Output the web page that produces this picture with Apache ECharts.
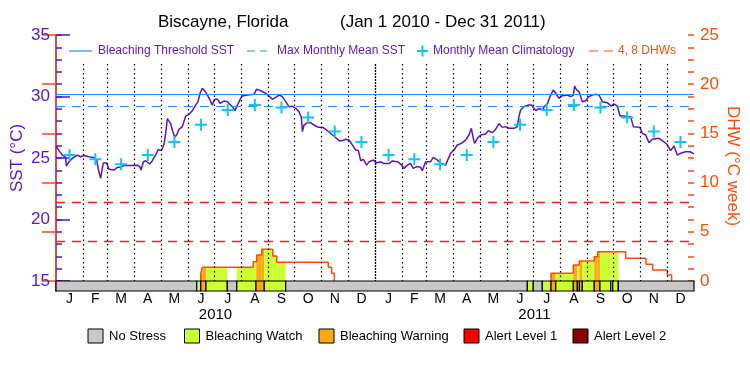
<!DOCTYPE html>
<html><head><meta charset="utf-8">
<script src="https://cdn.jsdelivr.net/npm/echarts@6/dist/echarts.min.js"></script>
<style>html,body{margin:0;padding:0;background:#fff}#c{width:750px;height:375px}</style>
</head><body><div id="c"></div>
<script>
// ---------- data (x = days since 2010-01-01) ----------
const monthLetters = ['J','F','M','A','M','J','J','A','S','O','N','D'];
const monthLengths = [31,28,31,30,31,30,31,31,30,31,30,31, 31,28,31,30,31,30,31,31,30,31,30,31];
const yearLabels = ['2010','2011'];
const yearMidDays = [182.5, 547.5];

const sstDay = [0,3.4,7.2,11,11.8,14.9,18.7,24.4,28.2,32,37.8,43.5,46.5,48.4,51.1,52.3,54.2,58,60.6,66.4,70.2,74,77.8,83.5,93,95.7,97.3,100,102.6,107.2,110.2,114,117.1,120.5,123.6,125.5,127.4,129.3,131.2,133.1,135.8,138,140.7,144.6,148.4,152.2,156,159.8,162.5,164.8,167.4,170.1,173.2,176.2,178.9,180.8,
183.1,185.4,187.7,192.2,196,201.8,204.8,207.5,211.3,213.2,218.9,226.6,229.6,234.2,239.9,243.7,247.5,251.4,255.2,259,262.8,266.6,270.4,274.2,278,280.7,281.9,283.8,287.6,291.4,295.2,300.2,305.9,310.5,315.1,318.9,323.9,327.7,331.5,335.3,339.1,342.9,346,348.6,351.7,355.5,358.2,363.2,366.2,
367.6,371.4,375.2,381,384.8,390.5,394.3,398.1,402,405.8,408.8,412.6,417.2,419.1,422.9,428.6,431.7,436.3,440.1,445.8,448.5,451.5,455.3,459.2,463.7,468.7,472.5,475.2,477.5,479,482.1,485.9,491.6,494.6,499.2,503,506.8,510.6,514.5,518.3,524,527.8,529.7,531.6,535.4,540,543.8,546.9,549.2,
552.6,556.4,559.1,562.2,565.2,569,571.7,575.5,579.3,585,588.9,591.9,593.4,595.7,598.4,602.2,606,609.8,613.6,617.5,621.3,625.1,630.8,635.4,638.4,642.3,645.3,649.9,653.7,657.5,660.6,668.2,670.9,674.7,678.5,682.3,689.9,693.7,698.7,703.3,707.1,710.9,714.7,720.4,725.4,730];
const sstVal = [25.98,25.6,25.24,25.05,24.35,24.7,24.97,25.24,25.1,25.2,25.1,25.03,24.89,24.08,23.35,23.9,24.6,24.6,24.08,24.02,24.24,24.24,24.4,24.4,24.42,24.3,24.02,24.7,24.78,24.51,24.78,25.24,25.7,25.6,26.11,27.0,28.2,28.3,27.8,27.28,26.68,26.87,27.33,27.55,28.41,28.55,28.85,29.3,29.58,30.26,30.66,30.47,30.12,29.72,29.3,29.72,
29.8,29.72,29.45,29.63,29.58,29.17,28.85,29.3,29.85,30.04,30.12,30.18,30.6,30.47,30.26,30.04,29.77,29.93,30.12,29.99,29.58,29.17,29.2,29.04,28.77,28.31,27.14,27.68,27.87,27.87,27.68,27.49,27.47,27.22,26.95,26.73,26.41,26.41,26.52,26.46,26.06,25.65,25.6,24.78,24.89,24.42,24.7,24.84,24.6,
24.51,24.7,24.55,24.55,24.76,24.7,24.51,24.16,24.42,24.55,24.16,24.3,24.24,23.97,24.7,24.7,25.05,24.84,24.55,24.42,24.89,25.38,25.65,26.06,26.19,26.46,26.87,27.41,26.6,26.19,26.6,26.87,26.95,27.22,27.06,27.33,27.8,27.49,27.55,27.41,27.41,27.55,28.36,28.9,29.17,29.3,29.3,29.05,28.85,
29.04,28.9,29.22,29.4,29.99,30.53,30.26,29.85,30.07,30.12,29.99,30.12,30.85,30.53,30.4,29.58,29.66,29.99,30.12,30.18,30.12,29.58,29.5,29.22,29.4,29.22,28.41,28.41,28.36,28.36,27.55,27.49,27.0,26.87,26.25,26.52,26.6,26.41,26.14,25.6,25.98,25.24,25.38,25.51,25.51,25.33];

const climVal = [25.25,24.9,24.5,25.25,26.3,27.7,28.9,29.3,29.1,28.3,27.15,26.3];
const bleachThreshold = 30.2;
const maxMonthlyMean = 29.2;
const dhwLevels = [4, 8];

const dhw2010Day = [165.6,165.6,167.4,225.7,229.6,235.4,248,252.5,311.5,315.4,318.4];
const dhw2010Val = [0,0.78,1.39,1.96,2.64,3.22,2.54,1.9,1.39,0.78,0];
const dhw2011Day = [566.4,566.4,591.9,598.7,615.9,619.8,651.8,675,682.7,699.4,704.4];
const dhw2011Val = [0,0.78,1.63,2.03,2.47,2.98,2.3,1.7,1.12,0.61,0];

// stress level: 0 no stress, 1 watch, 2 warning, 3 alert 1, 4 alert 2
const stressStart = [0,161.0,165.6,171.6,196.0,206.8,228.8,238.3,262.8,539.3,546.1,556.4,566.4,571.8,591.9,596.5,598.8,602.2,615.9,622.4,634.7,637.0,643.4];
const stressEnd   = [161.0,165.6,171.6,196.0,206.8,228.8,238.3,262.8,539.3,546.1,556.4,566.4,571.8,591.9,596.5,598.8,602.2,615.9,622.4,634.7,637.0,643.4,730];
const stressLevel = [0,1,2,1,0,1,2,1,0,1,0,1,2,1,2,1,2,1,2,1,1,1,0];
const stressNames = ['No Stress','Bleaching Watch','Bleaching Warning','Alert Level 1','Alert Level 2'];

// ---------- styles ----------
const PURPLE = '#5a14c8', BLUE = '#1e90ff', CYAN = '#12c4f4', RED = '#ff1a1a', ORANGE = '#ff4a0a';
const stressColors = ['#c8c8c8','#ccff33','#ffa811','#ff0000','#8b0000'];
const FONT = 'Liberation Sans';

// ---------- derived ----------
const monthStart = [0];
monthLengths.forEach((l, i) => monthStart.push(monthStart[i] + l));
const monthMid = monthLengths.map((l, i) => monthStart[i] + l / 2);
const sstData = sstDay.map((d, i) => [d, sstVal[i]]);
const climData = monthMid.map((d, i) => [d, climVal[i % 12]]);
const dhw2010 = dhw2010Day.map((d, i) => [d, dhw2010Val[i]]);
const dhw2011 = dhw2011Day.map((d, i) => [d, dhw2011Val[i]]);
const stressData = stressStart.map((s, i) => [s, stressEnd[i], stressLevel[i]]);
const fillData = [];
[[dhw2010Day, dhw2010Val], [dhw2011Day, dhw2011Val]].forEach(([dd, vv]) => {
  for (let i = 0; i < dd.length - 1; i++) {
    if (vv[i] <= 0) continue;
    stressData.forEach(([s, e, l]) => {
      if (l === 0) return;
      const a = Math.max(s, dd[i]), b = Math.min(e, dd[i + 1]);
      if (b > a) fillData.push([a, b, vv[i], l]);
    });
  }
});
const monthLineData = monthStart.slice(1, 24).map(d => [{coord: [d, 32.65]}, {coord: [d, 15], lineStyle: d === 365 ? {type: [2, 1], width: 1.3} : undefined}]);

const chart = echarts.init(document.getElementById('c'), null, {renderer: 'canvas'});
const G0 = {left: 56, right: 56, top: 35, height: 246, outerBoundsMode: 'none', containLabel: false};
const G1 = {left: 56, right: 56, top: 281, height: 10, outerBoundsMode: 'none', containLabel: false};

const legendY = 51, bottomY = 336;
const graphics = [
  {type: 'text', left: 158, top: 14, style: {text: 'Biscayne, Florida', font: '17px ' + FONT, fill: '#000'}},
  {type: 'text', left: 340, top: 14, style: {text: '(Jan 1 2010 - Dec 31 2011)', font: '17px ' + FONT, fill: '#000'}},
  {type: 'line', shape: {x1: 69, y1: legendY, x2: 92, y2: legendY}, style: {stroke: BLUE, lineWidth: 1.2}},
  {type: 'text', x: 98, y: legendY, style: {text: 'Bleaching Threshold SST', font: '12px ' + FONT, fill: PURPLE, textVerticalAlign: 'middle'}},
  {type: 'line', shape: {x1: 247, y1: legendY, x2: 267, y2: legendY}, style: {stroke: BLUE, lineWidth: 1.2, lineDash: [8, 5]}},
  {type: 'text', x: 277, y: legendY, style: {text: 'Max Monthly Mean SST', font: '12px ' + FONT, fill: PURPLE, textVerticalAlign: 'middle'}},
  {type: 'line', shape: {x1: 417, y1: legendY, x2: 428, y2: legendY}, style: {stroke: CYAN, lineWidth: 2}},
  {type: 'line', shape: {x1: 422.5, y1: legendY - 5.5, x2: 422.5, y2: legendY + 5.5}, style: {stroke: CYAN, lineWidth: 2}},
  {type: 'text', x: 433, y: legendY, style: {text: 'Monthly Mean Climatology', font: '12px ' + FONT, fill: PURPLE, textVerticalAlign: 'middle'}},
  {type: 'line', shape: {x1: 589, y1: legendY, x2: 613, y2: legendY}, style: {stroke: ORANGE, lineWidth: 1.2, lineDash: [9, 6]}},
  {type: 'text', x: 618, y: legendY, style: {text: '4, 8 DHWs', font: '12px ' + FONT, fill: ORANGE, textVerticalAlign: 'middle'}},
  {type: 'text', x: 17, y: 158, rotation: Math.PI / 2, style: {text: 'SST (°C)', font: '17px ' + FONT, fill: PURPLE, textAlign: 'center', textVerticalAlign: 'middle'}},
  {type: 'text', x: 733, y: 166, rotation: -Math.PI / 2, style: {text: 'DHW (°C week)', font: '17px ' + FONT, fill: ORANGE, textAlign: 'center', textVerticalAlign: 'middle'}}
];
const boxX = [88, 184.5, 319, 464, 573];
stressNames.forEach((n, i) => {
  graphics.push({type: 'rect', shape: {x: boxX[i], y: bottomY - 7, width: 15, height: 14}, style: {fill: stressColors[i], stroke: '#000', lineWidth: 1}});
  graphics.push({type: 'text', x: boxX[i] + 21, y: bottomY, style: {text: n, font: '13px ' + FONT, fill: '#000', textVerticalAlign: 'middle'}});
});

const hiddenAxisParts = {axisLine: {show: false}, axisLabel: {show: false}, splitLine: {show: false}};
const option = {
  animation: false,
  backgroundColor: '#fff',
  grid: [G0, G1],
  graphic: graphics,
  xAxis: [
    {gridIndex: 0, type: 'value', min: 0, max: 730, show: false},
    {gridIndex: 0, type: 'value', min: 0, max: 730, position: 'top', axisLine: {show: true, lineStyle: {color: '#000', width: 1}}, axisTick: {show: false}, axisLabel: {show: false}, splitLine: {show: false}},
    {gridIndex: 1, type: 'value', min: 0, max: 730, position: 'bottom', axisLine: {show: false}, axisTick: {show: false}, splitLine: {show: false},
      axisLabel: {customValues: monthMid, margin: 1, color: '#000', fontFamily: FONT, fontSize: 14,
        formatter: v => monthLetters[monthMid.indexOf(v) % 12]}},
    {gridIndex: 1, type: 'value', min: 0, max: 730, position: 'bottom', axisLine: {show: false}, axisTick: {show: false}, splitLine: {show: false},
      axisLabel: {customValues: yearMidDays, margin: 16, color: '#000', fontFamily: FONT, fontSize: 15,
        formatter: v => yearLabels[yearMidDays.indexOf(v)]}}
  ],
  yAxis: [
    {gridIndex: 0, type: 'value', min: 15, max: 35, interval: 5, position: 'left',
      axisLine: {show: true, lineStyle: {color: PURPLE, width: 1.5}},
      axisTick: {show: true, inside: true, length: 14, lineStyle: {color: PURPLE, width: 1.5}},
      axisLabel: {color: PURPLE, fontFamily: FONT, fontSize: 17, margin: 6},
      splitLine: {show: false}},
    {gridIndex: 0, type: 'value', min: 0, max: 25, interval: 5, position: 'right',
      axisLine: {show: true, lineStyle: {color: ORANGE, width: 1.5}},
      axisTick: {show: true, inside: true, length: 14, lineStyle: {color: ORANGE, width: 1.5}},
      axisLabel: {color: ORANGE, fontFamily: FONT, fontSize: 17, margin: 6},
      splitLine: {show: false}},
    {gridIndex: 1, type: 'value', min: 0, max: 1, position: 'left', axisLine: {show: true, lineStyle: {color: PURPLE, width: 1.5}}, axisTick: {show: false}, axisLabel: {show: false}, splitLine: {show: false}},
    {gridIndex: 1, type: 'value', min: 0, max: 1, position: 'right', axisLine: {show: true, lineStyle: {color: ORANGE, width: 1.5}}, axisTick: {show: false}, axisLabel: {show: false}, splitLine: {show: false}},
    Object.assign({gridIndex: 0, type: 'value', min: 15, max: 35, interval: 1, position: 'left',
      axisTick: {show: true, inside: true, length: 6, lineStyle: {color: PURPLE, width: 1.5}}}, hiddenAxisParts),
    Object.assign({gridIndex: 0, type: 'value', min: 0, max: 25, interval: 1.25, position: 'right',
      axisTick: {show: true, inside: true, length: 6, lineStyle: {color: ORANGE, width: 1.5}}}, hiddenAxisParts)
  ],
  series: [
    {type: 'line', name: 'months', xAxisIndex: 0, yAxisIndex: 0, data: [], z: 1, silent: true,
      markLine: {silent: true, symbol: 'none', label: {show: false}, lineStyle: {color: '#000', type: [1.5, 3], width: 1.2}, data: monthLineData}},
    {type: 'custom', name: 'stressFill', xAxisIndex: 0, yAxisIndex: 1, data: fillData, z: 2, silent: true,
      renderItem: (params, api) => {
        const p0 = api.coord([api.value(0), api.value(2)]), p1 = api.coord([api.value(1), 0]);
        return {type: 'rect', shape: {x: p0[0], y: p0[1], width: p1[0] - p0[0], height: p1[1] - p0[1]}, style: {fill: stressColors[api.value(3)]}};
      }},
    {type: 'line', name: 'DHW 2010', xAxisIndex: 0, yAxisIndex: 1, data: dhw2010, step: 'end', symbol: 'none', z: 3,
      lineStyle: {color: ORANGE, width: 1.5},
      markLine: {silent: true, symbol: 'none', label: {show: false}, lineStyle: {color: RED, type: [9, 7], width: 1.3},
        data: dhwLevels.map(v => ({yAxis: v}))}},
    {type: 'line', name: 'DHW 2011', xAxisIndex: 0, yAxisIndex: 1, data: dhw2011, step: 'end', symbol: 'none', z: 3,
      lineStyle: {color: ORANGE, width: 1.5}},
    {type: 'line', name: 'SST', xAxisIndex: 0, yAxisIndex: 0, data: sstData, symbol: 'none', z: 4,
      lineStyle: {color: PURPLE, width: 1.5},
      markLine: {silent: true, symbol: 'none', label: {show: false}, data: [
        {yAxis: bleachThreshold, lineStyle: {color: BLUE, type: 'solid', width: 1.2}},
        {yAxis: maxMonthlyMean, lineStyle: {color: BLUE, type: [9, 7], width: 1.2}}]}},
    {type: 'scatter', name: 'Climatology', xAxisIndex: 0, yAxisIndex: 0, data: climData, z: 5,
      symbol: 'path://M5,0h2v5h5v2h-5v5h-2v-5h-5v-2h5z', symbolSize: 12, itemStyle: {color: CYAN, opacity: 1}},
    {type: 'custom', name: 'stressStrip', xAxisIndex: 2, yAxisIndex: 2, data: stressData, z: 6, silent: true,
      renderItem: (params, api) => {
        const p0 = api.coord([api.value(0), 1]), p1 = api.coord([api.value(1), 0]);
        return {type: 'rect', shape: {x: p0[0], y: p0[1], width: p1[0] - p0[0], height: p1[1] - p0[1]}, style: {fill: stressColors[api.value(2)], stroke: '#000', lineWidth: 1.2}};
      }}
  ]
};
chart.setOption(option);
</script>
</body></html>
